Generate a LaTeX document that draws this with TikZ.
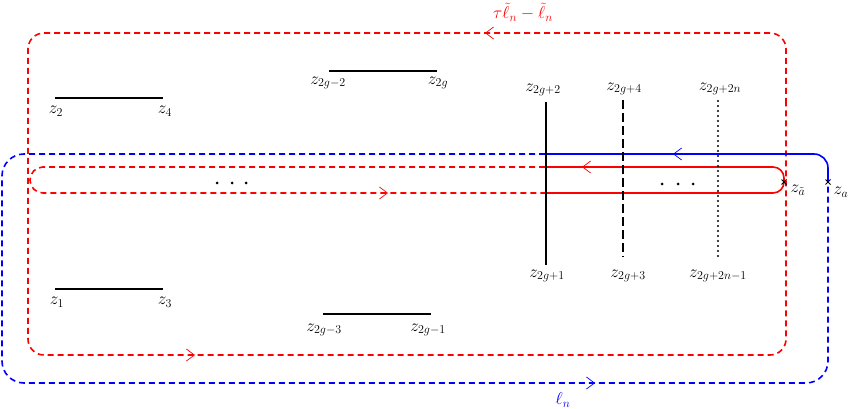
\documentclass[tikz,border=0pt]{standalone}
\usetikzlibrary{arrows.meta,decorations.markings,calc}
\begin{document}
\begin{tikzpicture}[x=1pt,y=-1pt,
  redd/.style={red, line width=1.6pt, dash pattern=on 6pt off 4pt},
  blued/.style={blue, line width=1.6pt, dash pattern=on 6pt off 4pt},
  reds/.style={red, line width=1.6pt},
  blues/.style={blue, line width=1.6pt},
  cut/.style={black, line width=1.8pt},
  lab/.style={font=\LARGE, inner sep=0pt},
  dotmark/.style={circle, fill=black, inner sep=0pt, minimum size=3pt},
  head/.style={decorate, decoration={markings, mark=at position 1 with {\arrow[#1,line width=0.7pt]{Straight Barb[length=8pt,width=12pt]}}}}
]
\useasboundingbox (0,0) rectangle (849,409);

% named points
\coordinate (za) at (828,182);
\coordinate (zat) at (784,182);

% big red dashed loop
\draw[redd, rounded corners=16pt] (786,120) -- (786,33) -- (28,33) -- (28,355) -- (786,355) -- cycle;
\path[head=red] (495,33) -- (485,33);
\path[head=red] (185,355) -- (195,355);
\node[lab, text=red] (tl) at (523,12) {$\tau\tilde{\ell}_n-\tilde{\ell}_n$};

% blue loop
\draw[blues, rounded corners=14pt] (za) -- (828,154) -- (545,154);
\draw[blued, rounded corners=22pt] (545,154) -- (2,154) -- (2,383) -- (828,383) -- (za);
\path[head=blue] (683,154) -- (673,154);
\path[head=blue] (585,383) -- (595,383);
\node[lab, text=blue] (ln) at (563,400) {$\ell_n$};

% red inner loop
\draw[reds, rounded corners=11pt] (545,167) -- (784,167) -- (784,193) -- (545,193);
\draw[redd, rounded corners=13pt] (545,167) -- (30,167) -- (30,193) -- (545,193);
\path[head=red] (592,167) -- (582,167);
\path[head=red] (378,193) -- (388,193);

% crosses
\draw[line width=0.8pt] ($(za)+(-2.5,-2.5)$) -- ($(za)+(2.5,2.5)$) ($(za)+(-2.5,2.5)$) -- ($(za)+(2.5,-2.5)$);
\draw[line width=0.8pt] ($(zat)+(-2.5,-2.5)$) -- ($(zat)+(2.5,2.5)$) ($(zat)+(-2.5,2.5)$) -- ($(zat)+(2.5,-2.5)$);
\node[lab] (lza) at (841,192) {$z_a$};
\node[lab] (lzat) at (798,190) {$z_{\tilde a}$};

% dots
\foreach \x in {217,232,246} \node[dotmark] at (\x,183) {};
\foreach \x in {662,678,693} \node[dotmark] at (\x,184) {};

% horizontal cuts
\coordinate (z2) at (55,98); \coordinate (z4) at (163,98);
\draw[cut] (z2) -- (z4);
\node[lab] at (56,111) {$z_2$};
\node[lab] at (165,111) {$z_4$};

\coordinate (z2gm2) at (329,71); \coordinate (z2g) at (437,71);
\draw[cut] (z2gm2) -- (z2g);
\node[lab] at (328,83) {$z_{2g-2}$};
\node[lab] at (438,83) {$z_{2g}$};

\coordinate (z1) at (55,289); \coordinate (z3) at (163,289);
\draw[cut] (z1) -- (z3);
\node[lab] at (57,302) {$z_1$};
\node[lab] at (165,302) {$z_3$};

\coordinate (z2gm3) at (323,314); \coordinate (z2gm1) at (431,314);
\draw[cut] (z2gm3) -- (z2gm1);
\node[lab] at (324,330) {$z_{2g-3}$};
\node[lab] at (428,330) {$z_{2g-1}$};

% vertical cuts
\draw[cut] (546,102) -- (546,265);
\draw[cut, dash pattern=on 9pt off 4pt] (623,100) -- (623,257);
\draw[black, line width=2.2pt, line cap=round, dash pattern=on 0pt off 5pt] (718,101) -- (718,258);
\node[lab] at (543,90) {$z_{2g+2}$};
\node[lab] at (624,89) {$z_{2g+4}$};
\node[lab] at (720,89) {$z_{2g+2n}$};
\node[lab] at (547,276) {$z_{2g+1}$};
\node[lab] at (628,276) {$z_{2g+3}$};
\node[lab] at (718,276) {$z_{2g+2n-1}$};
\end{tikzpicture}
\end{document}
